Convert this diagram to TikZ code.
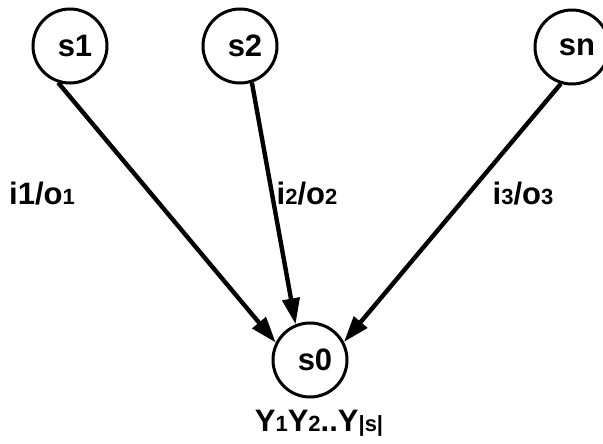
\documentclass[tikz,border=0pt]{standalone}
\usepackage{fontspec}
\setmainfont{Liberation Sans}
\usetikzlibrary{arrows.meta}
% smaller digits set on the baseline
\newcommand{\sm}[1]{{\fontsize{22}{22}\selectfont #1}}
\begin{document}
\begin{tikzpicture}[x=1pt,y=-1pt,
  state/.style={circle,draw,line width=3pt,minimum size=74pt,inner sep=0pt,
    font=\fontsize{31}{31}\selectfont\bfseries},
  edge/.style={line width=4.4pt,-{Triangle[length=26pt,width=17pt]}},
  lbl/.style={font=\fontsize{31}{31}\selectfont\bfseries,inner sep=0pt}]
  \useasboundingbox (0,0) rectangle (603,444);
  % states (text sits a little right of centre)
  \node[state] (s1) at (70,46) {\hspace*{10pt}s1};
  \node[state] (s2) at (240,46) {\hspace*{10pt}s2};
  \node[state] (sn) at (572,47) {\hspace*{10pt}sn};
  \node[state] (s0) at (310,360) {\hspace*{10pt}s0};
  % transitions into s0
  \draw[edge] (s1.-108) -- (s0.153);
  \draw[edge] (s2.-72) -- (s0.112);
  \draw[edge] (sn.-107) -- (s0.28);
  % transition labels
  \node[lbl] (l1) at (42,194) {i1/o\sm{1}};
  \node[lbl] (l2) at (307,194) {i\sm{2}/o\sm{2}};
  \node[lbl] (l3) at (523,194) {i\sm{3}/o\sm{3}};
  \node[lbl] (out) at (319,423) {Y\sm{1}Y\sm{2}..Y\sm{|s|}};
\end{tikzpicture}
\end{document}
